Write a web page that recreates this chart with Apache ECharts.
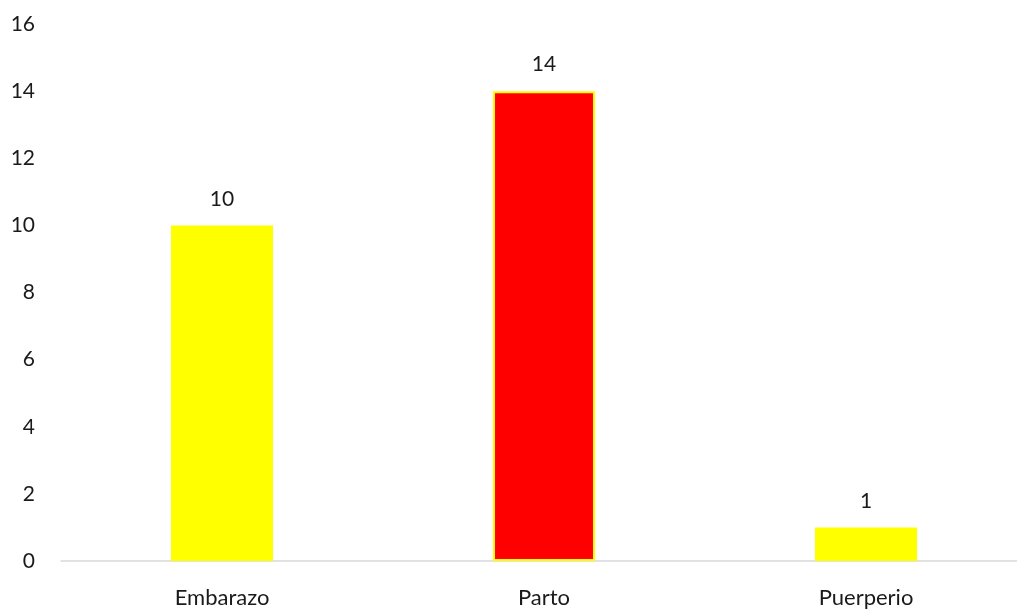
<!DOCTYPE html>
<html>
<head>
<meta charset="utf-8">
<script src="https://cdn.jsdelivr.net/npm/echarts@6/dist/echarts.min.js"></script>
<style>html,body{margin:0;padding:0;background:#fff;overflow:hidden;}#c{width:1027px;height:609px;}</style>
</head>
<body>
<div id="c"></div>
<script>
const categories = ['Embarazo', 'Parto', 'Puerperio'];
const values = [10, 14, 1];
const barColors = ['#FFFF00', '#FF0000', '#FFFF00'];
const yTicks = [0, 2, 4, 6, 8, 10, 12, 14, 16];

const chart = echarts.init(document.getElementById('c'), null, {renderer: 'canvas'});
const font = 'Lato, "Open Sans", sans-serif';
chart.setOption({
  animation: false,
  grid: {left: 61, right: 0, top: 24, bottom: 47, containLabel: false},
  xAxis: {
    type: 'category',
    data: categories,
    axisLine: {lineStyle: {color: '#D9D9D9', width: 1.5}},
    axisTick: {show: false},
    axisLabel: {color: '#1a1a1a', fontSize: 22, fontFamily: font, margin: 26}
  },
  yAxis: {
    type: 'value',
    min: yTicks[0], max: yTicks[yTicks.length - 1], interval: 2,
    axisLine: {show: false},
    axisTick: {show: false},
    splitLine: {show: false},
    axisLabel: {color: '#1a1a1a', fontSize: 21, fontFamily: font, margin: 26}
  },
  series: [{
    type: 'bar',
    barWidth: 102,
    data: values.map((v, i) => ({
      value: v,
      itemStyle: {color: barColors[i], borderColor: '#FFFF00', borderWidth: i === 1 ? 2 : 0}
    })),
    label: {show: true, position: 'top', distance: 16, color: '#1a1a1a', fontSize: 21, fontFamily: font}
  }]
});
</script>
</body>
</html>
